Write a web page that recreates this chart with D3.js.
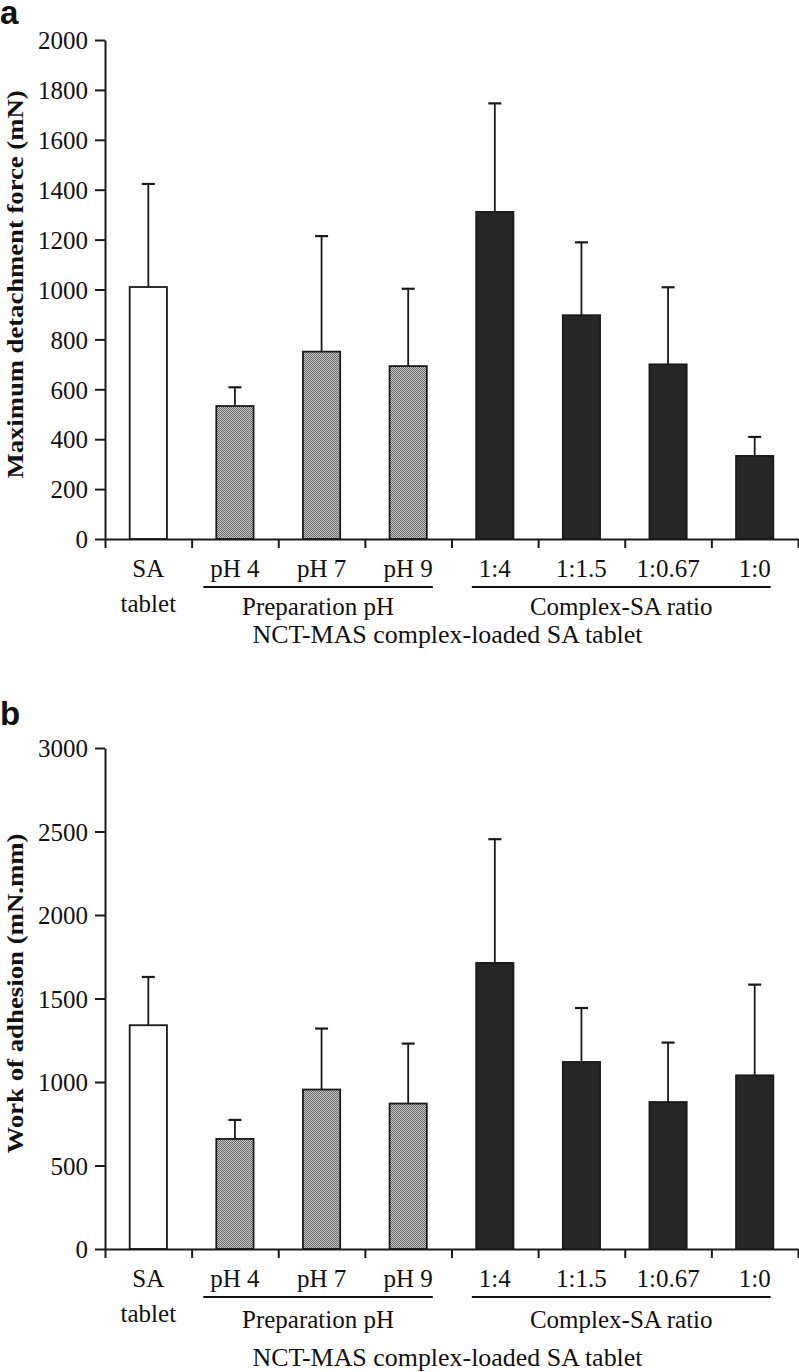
<!DOCTYPE html>
<html>
<head>
<meta charset="utf-8">
<script src="https://cdn.jsdelivr.net/npm/d3@7"></script>
<style>
  body { margin: 0; background: #fff; }
  text { font-family: "Liberation Serif", "Times New Roman", serif; fill: #111; }
</style>
</head>
<body>
<div id="chart"></div>
<script>
// categories along x (first one is split on two lines)
const categories = ["SA tablet", "pH 4", "pH 7", "pH 9", "1:4", "1:1.5", "1:0.67", "1:0"];
const categoryLines = [["SA", "tablet"], ["pH 4"], ["pH 7"], ["pH 9"], ["1:4"], ["1:1.5"], ["1:0.67"], ["1:0"]];
const barKinds = ["plain", "ph", "ph", "ph", "ratio", "ratio", "ratio", "ratio"];

// panel a: maximum detachment force (mN), mean and SD
const forceMean = [1010, 533, 751, 693, 1311, 897, 700, 333];
const forceSD   = [413, 75, 463, 310, 435, 292, 309, 76];
const forceTicks = [0, 200, 400, 600, 800, 1000, 1200, 1400, 1600, 1800, 2000];

// panel b: work of adhesion (mN.mm), mean and SD
const workMean = [1340, 659, 955, 871, 1713, 1120, 880, 1040];
const workSD   = [289, 114, 365, 359, 741, 323, 356, 543];
const workTicks = [0, 500, 1000, 1500, 2000, 2500, 3000];

const groups = [
  {label: "Preparation pH", from: "pH 4", to: "pH 9"},
  {label: "Complex-SA ratio", from: "1:4", to: "1:0"}
];
const xTitle = "NCT-MAS complex-loaded SA tablet";

let svg = d3.select("#chart").append("svg")
  .attr("width", 799)
  .attr("height", 1372);

// halftone-ish grey fill for the pH bars
let defs = svg.append("defs");
let pat = defs.append("pattern")
  .attr("id", "halftone")
  .attr("width", 2).attr("height", 2)
  .attr("patternUnits", "userSpaceOnUse");
pat.append("rect").attr("width", 2).attr("height", 2).attr("fill", "#c6c6c6");
pat.append("rect").attr("width", 1).attr("height", 1).attr("fill", "#6a6a6a");
pat.append("rect").attr("x", 1).attr("y", 1).attr("width", 1).attr("height", 1).attr("fill", "#6a6a6a");

const fillFor = {plain: "#ffffff", ph: "url(#halftone)", ratio: "#262626"};

class BarPanel {
  constructor(opts) {
    this.o = opts;
    this.left = 105;
    this.right = 798;
    this.g = svg.append("g");
  }

  draw() {
    let o = this.o, THIS = this;
    let g = this.g;

    let xScale = d3.scaleBand().domain(categories).range([this.left, this.right]);
    let bw = xScale.bandwidth() * 0.43;
    let yScale = d3.scaleLinear()
      .domain([0, d3.max(o.ticks)])
      .range([o.bottom, o.top]);

    // panel letter
    g.append("text")
      .attr("x", 0).attr("y", o.letterY)
      .style("font-family", "'Liberation Sans', Arial, sans-serif")
      .style("font-weight", "bold")
      .style("font-size", "33px")
      .text(o.letter);

    // bars
    g.selectAll("rect.bar").data(o.mean).enter()
      .append("rect")
      .attr("class", "bar")
      .attr("x", (d, i) => xScale(categories[i]) + xScale.bandwidth() / 2 - bw / 2)
      .attr("y", d => yScale(d))
      .attr("width", bw)
      .attr("height", d => yScale(0) - yScale(d))
      .attr("fill", (d, i) => fillFor[barKinds[i]])
      .attr("stroke", "#1a1a1a")
      .attr("stroke-width", 1.8);

    // error bars (upper only)
    let err = g.selectAll("g.err").data(o.mean).enter().append("g").attr("class", "err");
    let cx = (i) => xScale(categories[i]) + xScale.bandwidth() / 2;
    err.append("line")
      .attr("x1", (d, i) => cx(i)).attr("x2", (d, i) => cx(i))
      .attr("y1", d => yScale(d))
      .attr("y2", (d, i) => yScale(d + o.sd[i]))
      .attr("stroke", "#1a1a1a").attr("stroke-width", 1.8);
    err.append("line")
      .attr("x1", (d, i) => cx(i) - 6.5).attr("x2", (d, i) => cx(i) + 6.5)
      .attr("y1", (d, i) => yScale(d + o.sd[i]))
      .attr("y2", (d, i) => yScale(d + o.sd[i]))
      .attr("stroke", "#1a1a1a").attr("stroke-width", 2.2);

    // y axis
    let yAxis = d3.axisLeft(yScale).tickValues(o.ticks).tickFormat(d3.format("d"))
      .tickSize(10).tickSizeOuter(0).tickPadding(7);
    let yG = g.append("g")
      .attr("transform", "translate(" + this.left + ",0)")
      .call(yAxis);
    yG.selectAll("text").style("font-size", "25px").attr("dy", "0.35em");

    // x axis: ticks at band edges
    let edge = d3.scaleLinear().domain([0, categories.length]).range([this.left, this.right]);
    let xAxis = d3.axisBottom(edge).ticks(categories.length).tickSize(9).tickSizeOuter(0).tickFormat("");
    g.append("g")
      .attr("transform", "translate(0," + o.bottom + ")")
      .call(xAxis);

    g.selectAll(".domain, .tick line")
      .attr("stroke", "#1a1a1a")
      .attr("stroke-width", 2);

    // category labels
    let labels = {};
    categoryLines.forEach(function(lines, i) {
      lines.forEach(function(t, k) {
        let tx = g.append("text")
          .attr("x", cx(i))
          .attr("y", o.bottom + (k == 0 ? 38 : 73))
          .attr("text-anchor", "middle")
          .style("font-size", "25px")
          .text(t);
        if (k == 0) labels[categories[i]] = tx;
      });
    });

    // group underlines + names
    groups.forEach(function(gr) {
      let a = labels[gr.from].node().getBBox();
      let b = labels[gr.to].node().getBBox();
      let x1 = a.x - 7, x2 = b.x + b.width;
      g.append("line")
        .attr("x1", x1).attr("x2", x2)
        .attr("y1", o.bottom + 48).attr("y2", o.bottom + 48)
        .attr("stroke", "#111").attr("stroke-width", 2);
      g.append("text")
        .attr("x", (x1 + x2) / 2)
        .attr("y", o.bottom + o.groupDy)
        .attr("text-anchor", "middle")
        .style("font-size", "25px")
        .text(gr.label);
    });

    // x title
    g.append("text")
      .attr("x", (THIS.left + THIS.right) / 2 - 4)
      .attr("y", o.bottom + o.titleDy)
      .attr("text-anchor", "middle")
      .attr("textLength", 390)
      .attr("lengthAdjust", "spacingAndGlyphs")
      .style("font-size", "25px")
      .text(xTitle);

    // y title
    g.append("text")
      .attr("transform", "translate(23," + ((o.top + o.bottom) / 2 - 5) + ") rotate(-90)")
      .attr("text-anchor", "middle")
      .attr("textLength", o.yTitleLen)
      .attr("lengthAdjust", "spacingAndGlyphs")
      .style("font-weight", "bold")
      .style("font-size", "24px")
      .text(o.yTitle);
  }
}

new BarPanel({
  letter: "a", letterY: 24,
  top: 40, bottom: 539,
  mean: forceMean, sd: forceSD, ticks: forceTicks,
  yTitle: "Maximum detachment force (mN)", yTitleLen: 388,
  groupDy: 76, titleDy: 104
}).draw();

new BarPanel({
  letter: "b", letterY: 725,
  top: 748, bottom: 1249,
  mean: workMean, sd: workSD, ticks: workTicks,
  yTitle: "Work of adhesion (mN.mm)", yTitleLen: 320,
  groupDy: 79, titleDy: 117
}).draw();
</script>
</body>
</html>
